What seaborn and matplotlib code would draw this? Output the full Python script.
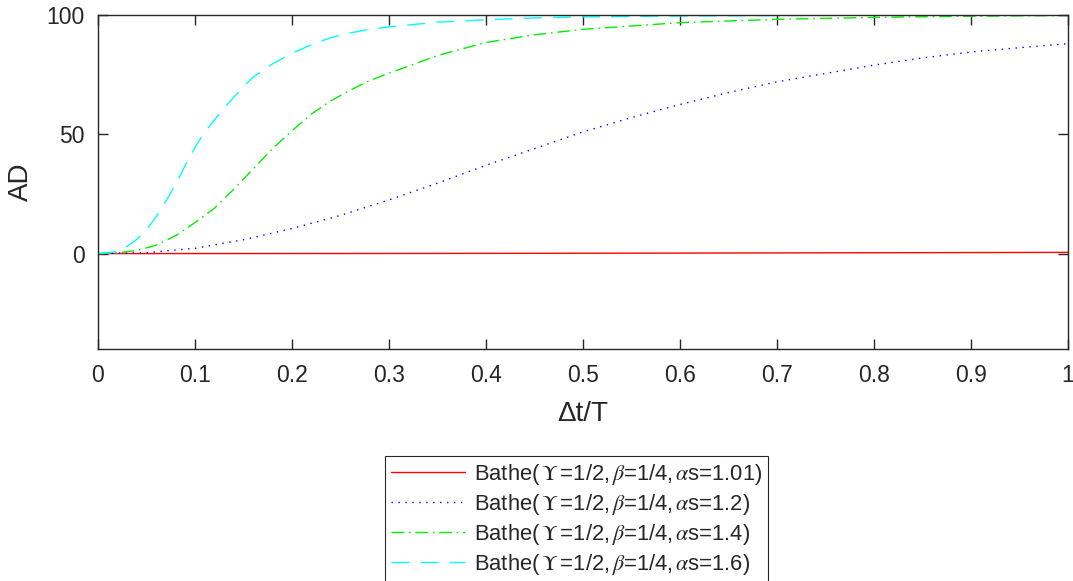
import numpy as np
import pandas as pd
import matplotlib
matplotlib.use("Agg")
import matplotlib.pyplot as plt
from matplotlib.ticker import FuncFormatter
import seaborn as sns

# Amplitude decay (AD) against normalised time step for four alpha_s values
t_101 = [0.0, 0.2, 0.4, 0.6, 0.8, 1.0]
ad_101 = [0.0, 0.02, 0.08, 0.2, 0.35, 0.5]

t_12 = [0.0, 0.05, 0.1, 0.15, 0.2, 0.25, 0.3, 0.35, 0.4, 0.45, 0.5, 0.55,
        0.6, 0.65, 0.7, 0.75, 0.8, 0.85, 0.9, 0.95, 1.0]
ad_12 = [0.0, 0.4, 2.2, 5.8, 10.5, 16.0, 22.5, 29.5, 37.0, 44.0, 51.0, 57.0,
         62.5, 67.5, 72.0, 75.5, 79.0, 82.0, 84.5, 86.3, 88.0]

t_14 = [0.0, 0.02, 0.04, 0.06, 0.08, 0.1, 0.12, 0.14, 0.16, 0.18, 0.2, 0.22,
        0.24, 0.26, 0.28, 0.3, 0.35, 0.4, 0.45, 0.5, 0.6, 0.7, 0.8, 0.9, 1.0]
ad_14 = [0.0, 0.3, 1.3, 3.5, 7.5, 13.0, 19.0, 27.0, 35.5, 44.0, 51.5, 58.5,
         64.0, 68.5, 72.5, 75.6, 83.0, 88.5, 91.7, 94.0, 96.8, 98.2, 99.0, 99.5, 99.8]

t_16 = [0.0, 0.01, 0.02, 0.03, 0.04, 0.05, 0.06, 0.07, 0.08, 0.09, 0.1, 0.11,
        0.12, 0.13, 0.14, 0.15, 0.16, 0.18, 0.2, 0.22, 0.24, 0.26, 0.28, 0.3,
        0.35, 0.4, 0.45, 0.5, 0.6, 0.7, 0.8, 1.0]
ad_16 = [0.0, 0.3, 1.0, 3.0, 6.0, 10.0, 15.5, 22.0, 29.0, 37.0, 44.5, 51.0,
         56.0, 61.0, 65.5, 70.0, 74.0, 79.5, 84.0, 87.5, 90.5, 92.5, 94.0, 95.0,
         97.0, 98.0, 98.8, 99.2, 99.6, 99.8, 99.9, 100.0]

labels = [
    r"Bathe($\,\Upsilon\,$=1/2,$\,\beta$=1/4,$\,\alpha$s=1.01)",
    r"Bathe($\,\Upsilon\,$=1/2,$\,\beta$=1/4,$\,\alpha$s=1.2)",
    r"Bathe($\,\Upsilon\,$=1/2,$\,\beta$=1/4,$\,\alpha$s=1.4)",
    r"Bathe($\,\Upsilon\,$=1/2,$\,\beta$=1/4,$\,\alpha$s=1.6)",
]
colors = ["#ff0000", "#0000ff", "#00ee00", "#00ffff"]
styles = ["-", (0, (1.0, 4.0)), (0, (9.0, 3.5, 1.2, 3.5)), (0, (13.0, 8.0))]

sns.set_theme(style="white")
plt.rcParams["font.family"] = ["Liberation Sans", "DejaVu Sans"]
plt.rcParams["mathtext.fontset"] = "stix"
plt.rcParams["axes.edgecolor"] = "#262626"
plt.rcParams["axes.linewidth"] = 1.0

fig = plt.figure(figsize=(10.73, 5.81), dpi=100)
ax = fig.add_axes([98 / 1073, 1 - 349 / 581, 970 / 1073, 334 / 581])

series = [(t_101, ad_101), (t_12, ad_12), (t_14, ad_14), (t_16, ad_16)]
for (tt, aa), lab, col, ls in zip(series, labels, colors, styles):
    df = pd.DataFrame({"t": tt, "AD": aa})
    sns.lineplot(data=df, x="t", y="AD", ax=ax, color=col, linestyle=ls,
                 linewidth=1.0, label=lab, sort=False)

ax.set_xlim(0, 1)
ax.set_ylim(-40, 100)
ax.set_xticks(np.arange(0, 1.01, 0.1))
ax.set_yticks([0, 50, 100])
ax.xaxis.set_major_formatter(FuncFormatter(lambda v, p: f"{v:g}"))
ax.tick_params(axis="both", which="major", direction="in", length=7, width=1.0,
               color="#262626", labelsize=16.5, labelcolor="#262626",
               top=True, right=True, bottom=True, left=True)
ax.tick_params(axis="x", pad=11)
ax.tick_params(axis="y", pad=9.5)
for s in ax.spines.values():
    s.set_visible(True)
    s.set_color("#262626")

ax.set_xlabel("Δt/T", fontsize=20, color="#262626", labelpad=10)
ax.set_ylabel("AD", fontsize=20, color="#262626", labelpad=9)

ax.get_legend().remove()
handles, labs = ax.get_legend_handles_labels()
leg = fig.legend(handles, labs, loc="upper left",
                 bbox_to_anchor=(385 / 1073, 1 - 456 / 581),
                 fontsize=15.8, frameon=True, fancybox=False, shadow=False,
                 framealpha=1.0, edgecolor="#262626", handlelength=3.4,
                 handletextpad=0.4, labelspacing=0.23, borderpad=0.26,
                 borderaxespad=0.0)
leg.get_frame().set_linewidth(0.8)
for txt in leg.get_texts():
    txt.set_color("#262626")

fig.savefig("out.png", dpi=100, facecolor="white")
